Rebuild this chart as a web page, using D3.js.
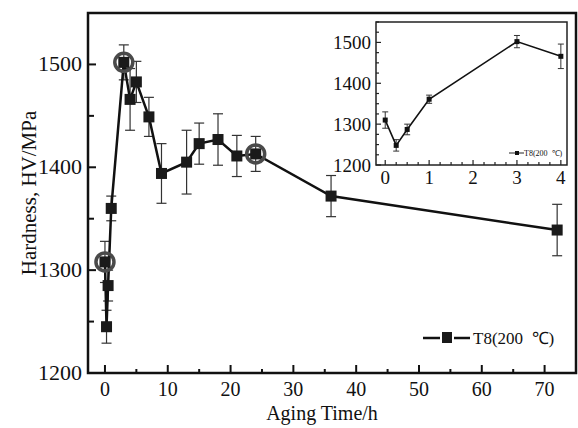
<!DOCTYPE html>
<html><head><meta charset="utf-8">
<script src="https://cdn.jsdelivr.net/npm/d3@7"></script>
<style>body{margin:0;background:#fff}svg{display:block}text{font-family:"Liberation Serif","Times New Roman",serif;fill:#111}</style>
</head><body>
<script>
const agingTime = [0, 0.25, 0.5, 1, 3, 4, 5, 7, 9, 13, 15, 18, 21, 24, 36, 72];
const hardness  = [1308, 1245, 1285, 1360, 1502, 1466, 1483, 1449, 1394, 1405, 1423, 1427, 1411, 1413, 1372, 1339];
const hardErr   = [20, 16, 15, 12, 17, 30, 20, 19, 29, 31, 20, 25, 20, 17, 20, 25];
const circledTimes = [0, 3, 24];
const insetTime = [0, 0.25, 0.5, 1, 3, 4];
const insetHard = [1310, 1248, 1287, 1361, 1502, 1466];
const insetErr  = [20, 14, 13, 10, 15, 30];
const xTicks = [0, 10, 20, 30, 40, 50, 60, 70];
const yTicks = [1200, 1300, 1400, 1500];
const insetXTicks = [0, 1, 2, 3, 4];
const insetYTicks = [1200, 1300, 1400, 1500];
const seriesLabel = "T8(200  ℃)";

const W = 578, H = 428;
const svg = d3.select("body").append("svg").attr("width", W).attr("height", H);

// main chart
const m = {l: 88, r: 576, t: 13, b: 373};
const x = d3.scaleLinear().domain([-2.7, 75]).range([m.l, m.r]);
const y = d3.scaleLinear().domain([1200, 1550]).range([m.b, m.t]);

svg.append("g").selectAll("line").data(d3.range(0, 75, 5)).join("line")
  .attr("x1", d => x(d)).attr("x2", d => x(d))
  .attr("y1", m.b).attr("y2", d => m.b - (d % 10 === 0 ? 8 : 4))
  .attr("stroke", "#111").attr("stroke-width", 2);
svg.append("g").selectAll("text").data(xTicks).join("text")
  .attr("x", d => x(d)).attr("y", 396).attr("text-anchor", "middle")
  .attr("font-size", 20).text(d => d);
svg.append("g").selectAll("line").data(d3.range(1200, 1551, 50)).join("line")
  .attr("x1", m.l).attr("x2", d => m.l + (d % 100 === 0 ? 8 : 6))
  .attr("y1", d => y(d)).attr("y2", d => y(d))
  .attr("stroke", "#111").attr("stroke-width", 2);
svg.append("g").selectAll("text").data(yTicks).join("text")
  .attr("x", 82).attr("y", d => y(d) + 7).attr("text-anchor", "end")
  .attr("font-size", 22).text(d => d);

svg.append("rect").attr("x", m.l).attr("y", m.t).attr("width", m.r - m.l).attr("height", m.b - m.t)
  .attr("fill", "none").attr("stroke", "#111").attr("stroke-width", 2.5);

// axis titles
svg.append("text").attr("x", 322).attr("y", 420).attr("text-anchor", "middle")
  .attr("font-size", 20).text("Aging Time/h");
svg.append("text").attr("transform", `translate(36,${(m.t + m.b) / 2}) rotate(-90)`)
  .attr("text-anchor", "middle").attr("font-size", 21).text("Hardness, HV/MPa");

const data = agingTime.map((t, i) => ({t, h: hardness[i], e: hardErr[i]}));
// error bars
const eb = svg.append("g").attr("stroke", "#333").attr("stroke-width", 1.2);
data.forEach(d => {
  eb.append("line").attr("x1", x(d.t)).attr("x2", x(d.t)).attr("y1", y(d.h - d.e)).attr("y2", y(d.h + d.e));
  [d.h - d.e, d.h + d.e].forEach(v => eb.append("line").attr("x1", x(d.t) - 5).attr("x2", x(d.t) + 5).attr("y1", y(v)).attr("y2", y(v)));
});
svg.append("path").datum(data)
  .attr("d", d3.line().x(d => x(d.t)).y(d => y(d.h)))
  .attr("fill", "none").attr("stroke", "#111").attr("stroke-width", 2.5);
svg.append("g").selectAll("circle").data(data.filter(d => circledTimes.includes(d.t))).join("circle")
  .attr("cx", d => x(d.t)).attr("cy", d => y(d.h)).attr("r", 9)
  .attr("fill", "none").attr("stroke", "#4a4a4a").attr("stroke-width", 3.5);
svg.append("g").selectAll("rect").data(data).join("rect")
  .attr("x", d => x(d.t) - 5.5).attr("y", d => y(d.h) - 5.5).attr("width", 11).attr("height", 11)
  .attr("fill", "#1a1a1a");

// legend
const lg = svg.append("g");
lg.append("line").attr("x1", 423).attr("x2", 440).attr("y1", 338).attr("y2", 338).attr("stroke", "#111").attr("stroke-width", 2.5);
lg.append("line").attr("x1", 454).attr("x2", 470).attr("y1", 338).attr("y2", 338).attr("stroke", "#111").attr("stroke-width", 2.5);
lg.append("rect").attr("x", 442).attr("y", 332).attr("width", 10).attr("height", 11).attr("fill", "#1a1a1a");
lg.append("text").attr("x", 473).attr("y", 344).attr("font-size", 17).style("white-space", "pre").text(seriesLabel);

// inset
const im = {l: 376, r: 567, t: 22, b: 165};
const ix = d3.scaleLinear().domain([-0.21, 4.14]).range([im.l, im.r]);
const iy = d3.scaleLinear().domain([1200, 1550]).range([im.b, im.t]);
const ins = svg.append("g");
ins.append("rect").attr("x", im.l).attr("y", im.t).attr("width", im.r - im.l).attr("height", im.b - im.t)
  .attr("fill", "#fff").attr("stroke", "#222").attr("stroke-width", 1.5);
ins.append("g").selectAll("line").data(d3.range(0, 4.01, 0.25)).join("line")
  .attr("x1", d => ix(d)).attr("x2", d => ix(d))
  .attr("y1", im.b).attr("y2", d => im.b - (d % 1 === 0 ? 5 : 3))
  .attr("stroke", "#222").attr("stroke-width", 1.2);
ins.append("g").selectAll("text").data(insetXTicks).join("text")
  .attr("x", d => ix(d)).attr("y", 184).attr("text-anchor", "middle").attr("font-size", 19).text(d => d);
ins.append("g").selectAll("line").data(d3.range(1200, 1551, 25)).join("line")
  .attr("x1", im.l).attr("x2", d => im.l + (d % 100 === 0 ? 5 : 3))
  .attr("y1", d => iy(d)).attr("y2", d => iy(d))
  .attr("stroke", "#222").attr("stroke-width", 1.2);
ins.append("g").selectAll("text").data(insetYTicks).join("text")
  .attr("x", 371).attr("y", d => iy(d) + 6.5).attr("text-anchor", "end").attr("font-size", 19).text(d => d);
const idata = insetTime.map((t, i) => ({t, h: insetHard[i], e: insetErr[i]}));
const ieb = ins.append("g").attr("stroke", "#333").attr("stroke-width", 1);
idata.forEach(d => {
  ieb.append("line").attr("x1", ix(d.t)).attr("x2", ix(d.t)).attr("y1", iy(d.h - d.e)).attr("y2", iy(d.h + d.e));
  [d.h - d.e, d.h + d.e].forEach(v => ieb.append("line").attr("x1", ix(d.t) - 3).attr("x2", ix(d.t) + 3).attr("y1", iy(v)).attr("y2", iy(v)));
});
ins.append("path").datum(idata).attr("d", d3.line().x(d => ix(d.t)).y(d => iy(d.h)))
  .attr("fill", "none").attr("stroke", "#111").attr("stroke-width", 1.6);
ins.append("g").selectAll("rect").data(idata).join("rect")
  .attr("x", d => ix(d.t) - 2.5).attr("y", d => iy(d.h) - 2.5).attr("width", 5).attr("height", 5).attr("fill", "#111");
ins.append("line").attr("x1", 509).attr("x2", 524).attr("y1", 153).attr("y2", 153).attr("stroke", "#222").attr("stroke-width", 1);
ins.append("rect").attr("x", 515).attr("y", 151).attr("width", 4).attr("height", 4).attr("fill", "#111");
ins.append("text").attr("x", 524).attr("y", 156).attr("font-size", 8).style("white-space", "pre").text(seriesLabel);
</script>
</body></html>
